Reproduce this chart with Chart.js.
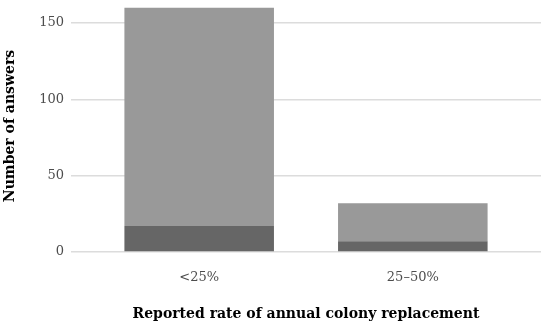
<!DOCTYPE html>
<html>
<head>
<meta charset="utf-8">
<script src="https://cdn.jsdelivr.net/npm/chart.js@4"></script>
<style>
  html, body { margin: 0; padding: 0; background: #fff; }
  #wrap { width: 550px; height: 330px; }
</style>
</head>
<body>
<div id="wrap"><canvas id="chart" width="550" height="330"></canvas></div>
<script>
  const categories = ['<25%', '25–50%'];
  const darkValues = [17, 7];
  const lightValues = [143, 25];
  const yTicks = [0, 50, 100, 150];

  const serif = "'DejaVu Serif', 'Liberation Serif', serif";

  // positions on a numeric axis so the side padding matches the original
  const xs = categories.map((c, i) => i + 1);

  new Chart(document.getElementById('chart').getContext('2d'), {
    type: 'bar',
    data: {
      datasets: [
        {
          label: 'dark',
          data: xs.map((x, i) => ({ x: x, y: darkValues[i] })),
          backgroundColor: '#666666',
          borderWidth: 0
        },
        {
          label: 'light',
          data: xs.map((x, i) => ({ x: x, y: lightValues[i] })),
          backgroundColor: '#999999',
          borderWidth: 0
        }
      ]
    },
    options: {
      responsive: false,
      animation: false,
      layout: { padding: { top: 0, right: 9, bottom: 0, left: 0 } },
      datasets: { bar: { barPercentage: 0.7, categoryPercentage: 1 } },
      plugins: { legend: { display: false }, tooltip: { enabled: false } },
      scales: {
        x: {
          type: 'linear',
          stacked: true,
          offset: false,
          min: 0.4,
          max: 2.6,
          afterBuildTicks: axis => { axis.ticks = xs.map(v => ({ value: v })); },
          afterFit: axis => {
            axis.height = 78;
            axis.paddingLeft = 0;
            axis.paddingRight = 0;
          },
          grid: { display: false, drawTicks: false },
          border: { display: false },
          ticks: {
            padding: 18,
            color: '#4d4d4d',
            font: { family: serif, size: 13 },
            callback: v => categories[v - 1]
          },
          title: {
            display: true,
            text: 'Reported rate of annual colony replacement',
            color: '#000',
            font: { family: serif, size: 14, weight: 'bold' },
            padding: { top: 10, bottom: 7 }
          }
        },
        y: {
          stacked: true,
          min: 0,
          max: 165,
          afterBuildTicks: axis => { axis.ticks = yTicks.map(v => ({ value: v })); },
          afterFit: axis => {
            axis.width = 71;
            axis.paddingTop = 0;
            axis.paddingBottom = 0;
          },
          grid: { color: '#dcdcdc', lineWidth: 1.5, drawTicks: false },
          border: { display: false },
          ticks: {
            padding: 7,
            color: '#4d4d4d',
            font: { family: serif, size: 13 }
          },
          title: {
            display: true,
            text: 'Number of answers',
            color: '#000',
            font: { family: serif, size: 14, weight: 'bold' },
            padding: { top: 2, bottom: 4 }
          }
        }
      }
    }
  });
</script>
</body>
</html>
